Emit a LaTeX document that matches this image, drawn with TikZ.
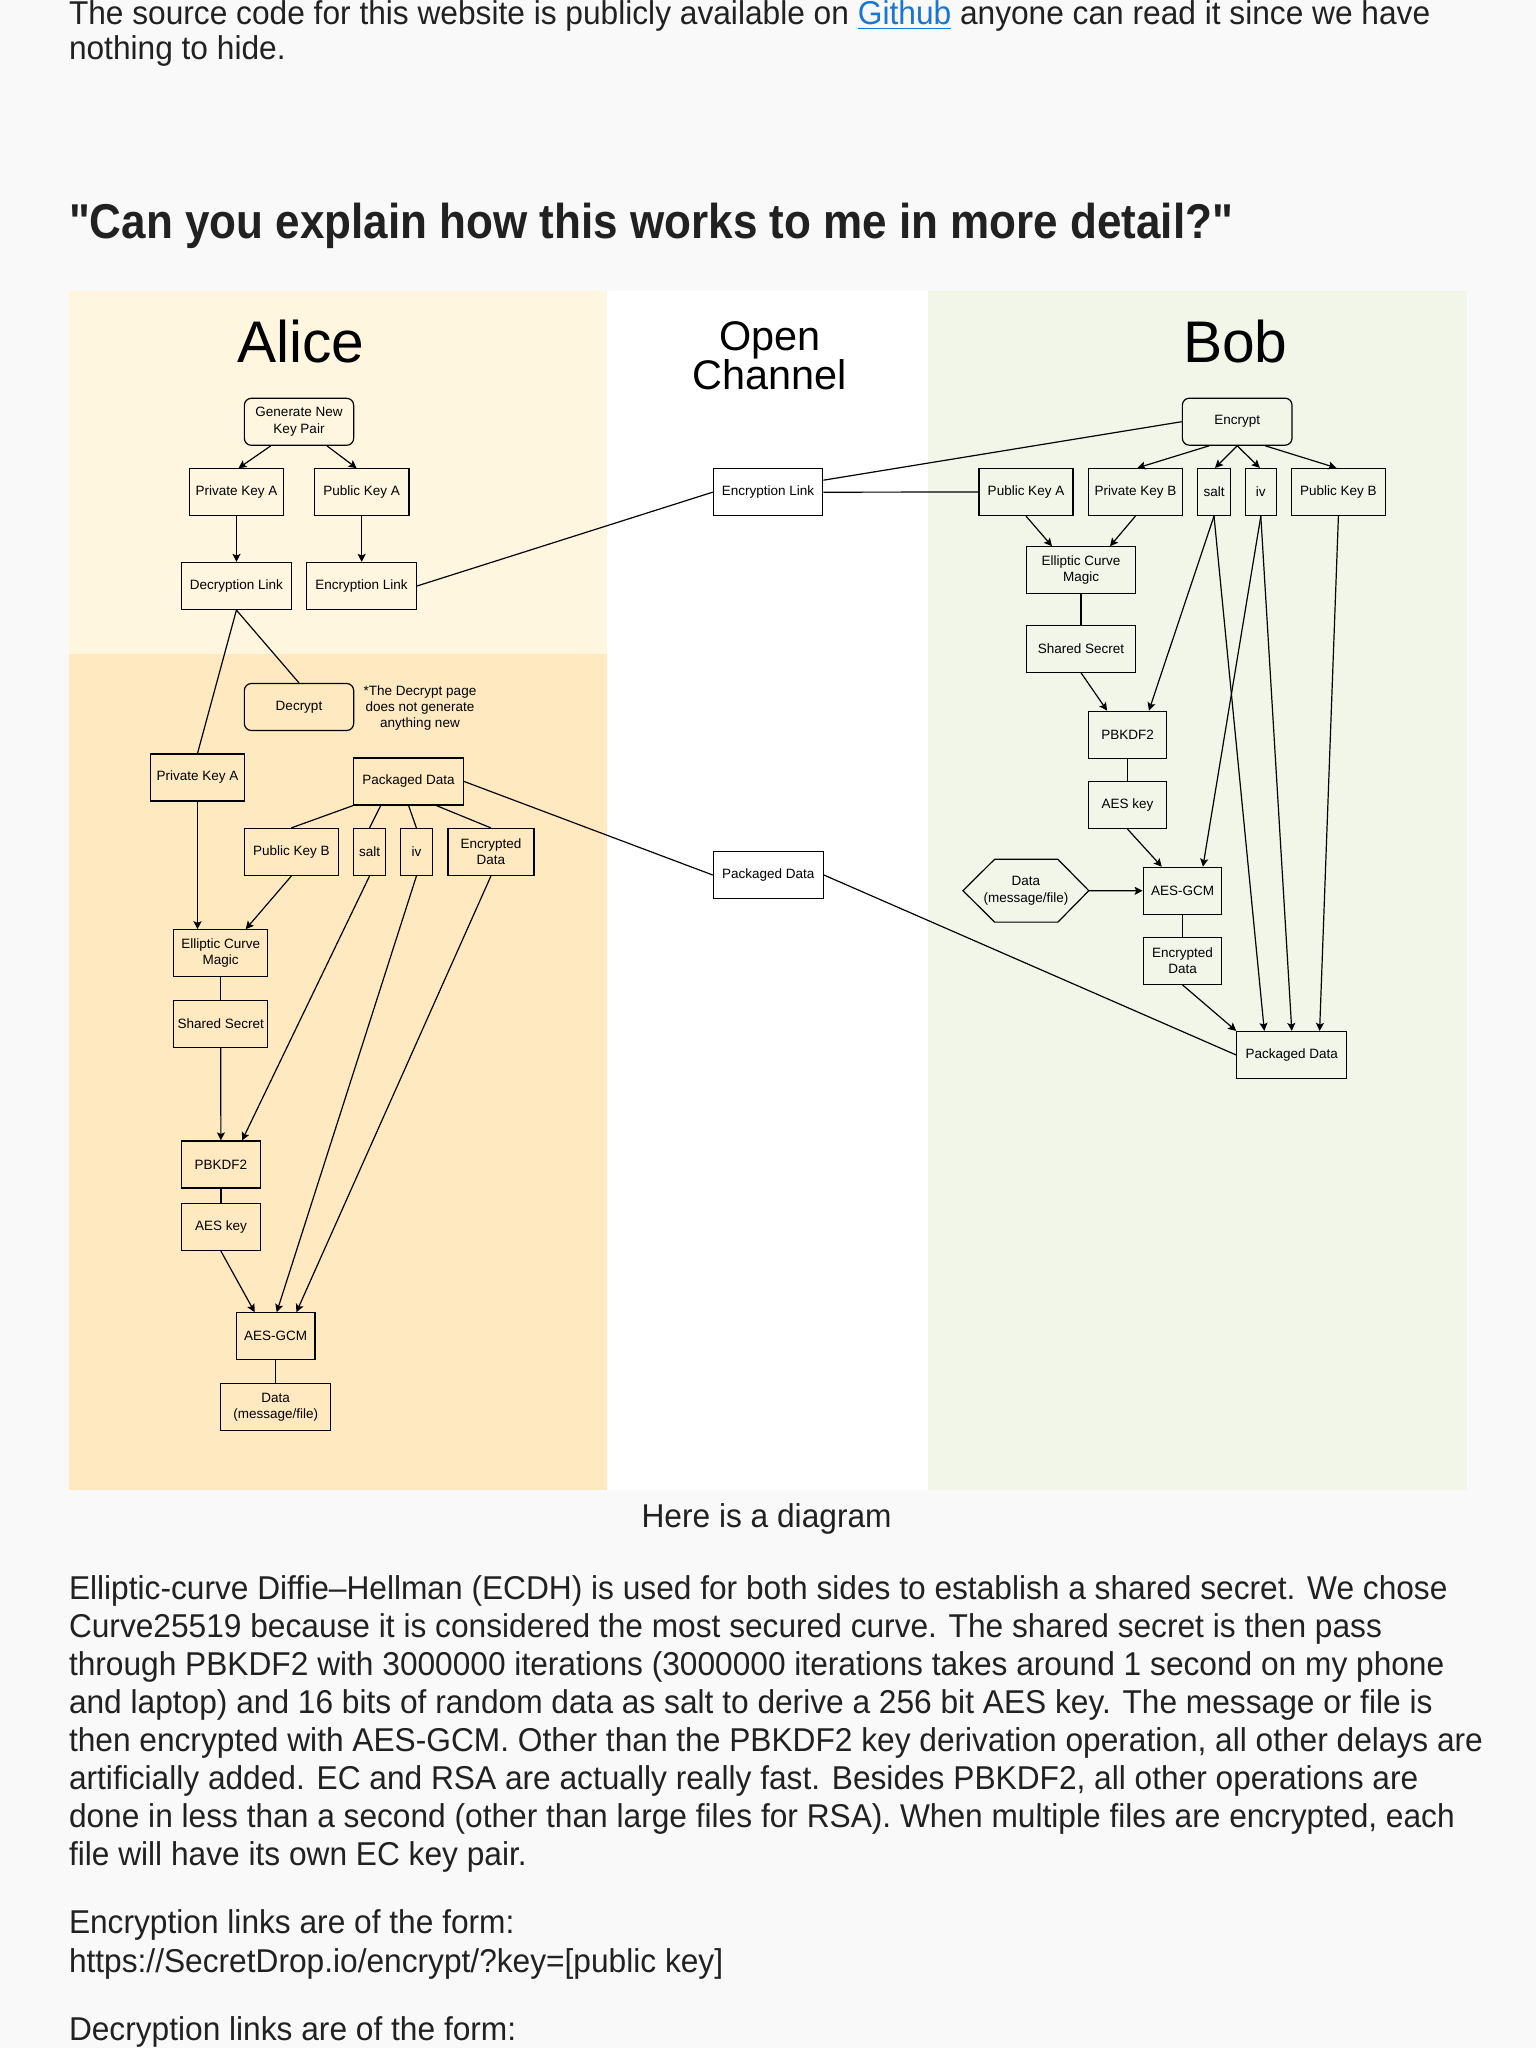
\documentclass[tikz,border=0pt]{standalone}
\usepackage{fontspec}
\setmainfont{Liberation Sans}
\newfontfamily\bodyfont{Liberation Sans}[FakeStretch=0.96]
\newfontfamily\headfont{Liberation Sans}[FakeStretch=0.9]
\usetikzlibrary{arrows.meta,calc}
\definecolor{pagebg}{HTML}{F9F9F9}
\definecolor{aliceup}{HTML}{FFF6E0}
\definecolor{alicelow}{HTML}{FFE9C1}
\definecolor{bobbg}{HTML}{F1F6E9}
\definecolor{txt}{HTML}{212121}
\definecolor{linkblue}{HTML}{1976D2}
\tikzset{
  box/.style={draw, line width=0.6pt, inner sep=0pt, align=center, text=black,
    font=\fontsize{6.75}{8.15}\selectfont, minimum height=23.5pt},
  rbox/.style={box, rounded corners=3.5pt},
  conn/.style={line width=0.6pt},
  arr/.style={conn, -{Stealth[length=4pt,width=4pt,inset=0.8pt]}},
  body/.style={anchor=base west, inner sep=0pt, text=txt, font=\bodyfont\fontsize{16.5}{20}\selectfont},
  bigtitle/.style={anchor=base, inner sep=0pt, text=black, font=\fontsize{29.35}{34}\selectfont},
  midtitle/.style={anchor=base, inner sep=0pt, text=black, font=\fontsize{20.7}{24}\selectfont},
}
\begin{document}
\begin{tikzpicture}[x=0.5pt, y=-0.5pt]
\useasboundingbox (0,0) rectangle (1536,2048);
\fill[pagebg] (0,0) rectangle (1536,2048);
% panels
\fill[aliceup] (68.6,291) rectangle (607,654);
\fill[alicelow] (68.6,654) rectangle (607,1490);
\fill[white] (607,291) rectangle (928,1490);
\fill[bobbg] (928,291) rectangle (1466.5,1490);

% page text
\node[body] (t1) at (68.6,25) {The source code for this website is publicly available on {\color{linkblue}\underline{Github}} anyone can read it since we have};
\node[body] (t2) at (68.6,59.3) {nothing to hide.};
\node[anchor=base west, inner sep=0pt, text=txt, font=\headfont\bfseries\fontsize{24.45}{30}\selectfont] (head) at (68.6,238.3) {"Can you explain how this works to me in more detail?"};

% titles
\node[bigtitle] (alice) at (301,362.7) {Alice};
\node[bigtitle] (bob) at (1235.4,362.7) {Bob};
\node[midtitle] (open1) at (770,350.7) {Open};
\node[midtitle] (open2) at (769.5,389.3) {Channel};

% Alice nodes
\node[rbox, minimum width=54.65pt] (gen) at (299,421.8) {Generate New\\Key Pair};
\node[box, minimum width=47.15pt] (privA) at (236.5,492.3) {Private Key A};
\node[box, minimum width=47.35pt] (pubA) at (361.7,492.3) {Public Key A};
\node[box, minimum width=55pt] (decl) at (236.4,586) {Decryption Link};
\node[box, minimum width=55pt] (encl) at (361.4,586) {Encryption Link};
\node[rbox, minimum width=54.65pt] (decrypt) at (299,707) {Decrypt};
\node[inner sep=0pt, align=center, font=\fontsize{6.75}{8}\selectfont] (note) at (420,708) {*The Decrypt page\\does not generate\\anything new};
\node[box, minimum width=47.1pt] (privA2) at (197.5,777.5) {Private Key A};
\node[box, minimum width=55pt] (pdA) at (408.6,781.5) {Packaged Data};
\node[box, minimum width=47pt] (pubB) at (291.3,852) {Public Key B};
\node[box, minimum width=15.9pt] (saltA) at (369.5,852) {salt};
\node[box, minimum width=15.7pt] (ivA) at (416.4,852) {iv};
\node[box, minimum width=43pt] (encdA) at (490.9,852) {Encrypted\\Data};
\node[box, minimum width=47.15pt] (ecmA) at (220.7,953.3) {Elliptic Curve\\Magic};
\node[box, minimum width=47.15pt] (ssA) at (220.7,1023.7) {Shared Secret};
\node[box, minimum width=39.5pt] (pbA) at (220.9,1164.5) {PBKDF2};
\node[box, minimum width=39.5pt] (aeskA) at (220.9,1227) {AES key};
\node[box, minimum width=39.3pt] (gcmA) at (275.7,1336.3) {AES-GCM};
\node[box, minimum width=55pt] (dataA) at (275.7,1407) {Data\\(message/file)};

% Open channel nodes
\node[box, minimum width=54.75pt] (oce) at (768,492.2) {Encryption Link};
\node[box, minimum width=55pt] (ocp) at (768.3,875) {Packaged Data};

% Bob nodes
\node[rbox, minimum width=54.85pt] (enc) at (1237.2,421.7) {Encrypt};
\node[box, minimum width=47pt] (pubAB) at (1026,492) {Public Key A};
\node[box, minimum width=47pt] (privB) at (1135.4,492) {Private Key B};
\node[box, minimum width=16.2pt] (saltB) at (1214,492) {salt};
\node[box, minimum width=15.65pt] (ivB) at (1260.8,492) {iv};
\node[box, minimum width=47pt] (pubBB) at (1338.4,492) {Public Key B};
\node[box, minimum width=54.75pt] (ecmB) at (1081,570.3) {Elliptic Curve\\Magic};
\node[box, minimum width=54.75pt] (ssB) at (1081,648.7) {Shared Secret};
\node[box, minimum width=39.3pt] (pbB) at (1127.5,734.7) {PBKDF2};
\node[box, minimum width=39.3pt] (aeskB) at (1127.5,805) {AES key};
\node[box, minimum width=39.3pt] (gcmB) at (1182.5,890.8) {AES-GCM};
\node[box, minimum width=39.3pt] (encdB) at (1182.5,960.8) {Encrypted\\Data};
\node[box, draw=none, minimum width=62.3pt, minimum height=31.35pt] (dataB) at (1025.9,890.7) {Data\\(message/file)};
\draw[conn] (dataB.west) -- ($(dataB)+(-31.3,-31.4)$) -- ($(dataB)+(32,-31.4)$) -- (dataB.east) -- ($(dataB)+(32,31.4)$) -- ($(dataB)+(-31.3,31.4)$) -- cycle;
\node[box, minimum width=55pt] (pdB) at (1291.8,1055) {Packaged Data};

% Alice connectors
\draw[arr] ($(gen.south)+(-28.3,0)$) -- ($(privA.north)+(2,0)$);
\draw[arr] ($(gen.south)+(28,0)$) -- ($(pubA.north)+(-5,0)$);
\draw[arr] (privA.south) -- (privA.south |- decl.north);
\draw[arr] (pubA.south) -- (pubA.south |- encl.north);
\draw[conn] (encl.east) -- (oce.west);
\draw[conn] (decl.south) -- (decrypt.north);
\draw[conn] (decl.south) -- (privA2.north);
\draw[arr] (privA2.south) -- (privA2.south |- ecmA.north);
\draw[arr] (pubB.south) -- ($(ecmA.north)+(25,0)$);
\draw[conn] (ecmA.south) -- (ssA.north);
\draw[arr] (ssA.south) -- (pbA.north);
\draw[arr] (saltA.south) -- ($(pbA.north)+(21.2,0)$);
\draw[conn] (pbA.south) -- (aeskA.north);
\draw[arr] (aeskA.south) -- ($(gcmA.north)+(-21,0)$);
\draw[arr] (ivA.south) -- ($(gcmA.north)+(1,0)$);
\draw[arr] (encdA.south) -- ($(gcmA.north)+(20.7,0)$);
\draw[conn] (gcmA.south) -- (dataA.north);
\draw[conn] (pdA.south west) -- (pubB.north);
\draw[conn] ($(pdA.south)+(-27.9,0)$) -- (saltA.north);
\draw[conn] (pdA.south) -- (ivA.north);
\draw[conn] ($(pdA.south)+(27.8,0)$) -- (encdA.north);
\draw[conn] (pdA.east) -- (ocp.west);
\draw[conn] (ocp.east) -- (pdB.west);

% Bob connectors
\draw[conn] (enc.west) -- ($(oce.east)+(0,-12)$);
\draw[conn] (oce.east) -- (pubAB.west);
\draw[arr] ($(enc.south)+(-28,0)$) -- ($(privB.north)+(2,0)$);
\draw[arr] (enc.south) -- ($(saltB.north)+(1,0)$);
\draw[arr] (enc.south) -- ($(ivB.north)+(-1,0)$);
\draw[arr] ($(enc.south)+(28,0)$) -- ($(pubBB.north)+(-2,0)$);
\draw[arr] (pubAB.south) -- ($(ecmB.north)+(-29,0)$);
\draw[arr] (privB.south) -- ($(ecmB.north)+(29,0)$);
\draw[conn] (ecmB.south) -- (ssB.north);
\draw[arr] (ssB.south) -- ($(pbB.north)+(-20.4,0)$);
\draw[arr] (saltB.south) -- ($(pbB.north)+(21.4,0)$);
\draw[conn] (pbB.south) -- (aeskB.north);
\draw[arr] (aeskB.south) -- ($(gcmB.north)+(-20.7,0)$);
\draw[arr] (ivB.south) -- ($(gcmB.north)+(20.4,0)$);
\draw[arr] (dataB.east) -- (gcmB.west);
\draw[conn] (gcmB.south) -- (encdB.north);
\draw[arr] (encdB.south) -- (pdB.north west);
\draw[arr] (saltB.south) -- ($(pdB.north)+(-27.5,0)$);
\draw[arr] (ivB.south) -- (pdB.north);
\draw[arr] (pubBB.south) -- ($(pdB.north)+(27.8,0)$);

% caption and paragraphs
\node[anchor=base, inner sep=0pt, text=txt, font=\bodyfont\fontsize{16.5}{20}\selectfont] (cap) at (766.6,1527) {Here is a diagram};
\node[body] (p1) at (68.6,1599.6) {Elliptic-curve Diffie–Hellman (ECDH) is used for both sides to establish a shared secret. We chose};
\node[body] (p2) at (68.6,1637.6) {Curve25519 because it is considered the most secured curve. The shared secret is then pass};
\node[body] (p3) at (68.6,1675.6) {through PBKDF2 with 3000000 iterations (3000000 iterations takes around 1 second on my phone};
\node[body] (p4) at (68.6,1713.6) {and laptop) and 16 bits of random data as salt to derive a 256 bit AES key. The message or file is};
\node[body] (p5) at (68.6,1751.6) {then encrypted with AES-GCM. Other than the PBKDF2 key derivation operation, all other delays are};
\node[body] (p6) at (68.6,1789.6) {artificially added. EC and RSA are actually really fast. Besides PBKDF2, all other operations are};
\node[body] (p7) at (68.6,1827.6) {done in less than a second (other than large files for RSA). When multiple files are encrypted, each};
\node[body] (p8) at (68.6,1865.6) {file will have its own EC key pair.};
\node[body] (q1) at (68.6,1933.6) {Encryption links are of the form:};
\node[body] (q2) at (68.6,1972.8) {https://SecretDrop.io/encrypt/?key=[public key]};
\node[body] (q3) at (68.6,2040) {Decryption links are of the form:};
\end{tikzpicture}
\end{document}
